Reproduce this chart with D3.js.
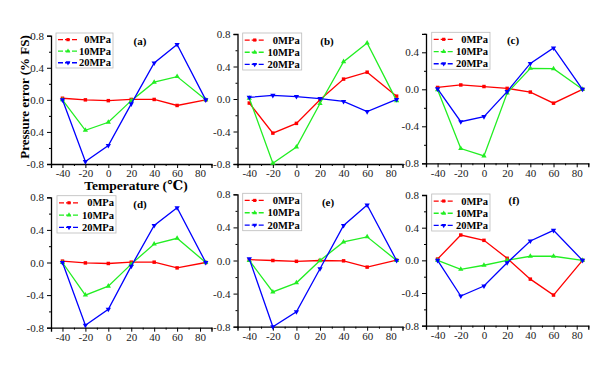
<!DOCTYPE html>
<html>
<head>
<meta charset="utf-8">
<script src="https://cdn.jsdelivr.net/npm/d3@7"></script>
<style>
  body { margin: 0; background: #fff; }
  svg text { font-family: "Liberation Serif", "DejaVu Serif", serif; }
</style>
</head>
<body>
<div id="chart"></div>
<script>
// temperatures (x) shared by every panel
var temps = [-40, -20, 0, 20, 40, 60, 85];
var seriesNames = ["0MPa", "10MPa", "20MPa"];
var seriesColors = ["#ff0000", "#22ee22", "#0000ff"];
var panelNames = ["(a)", "(b)", "(c)", "(d)", "(e)", "(f)"];
var xTicks = [-40, -20, 0, 20, 40, 60, 80];
var yTicks = [-0.8, -0.4, 0, 0.4, 0.8];
var yTicksC = [-0.8, -0.4, 0, 0.4];

// values: 0MPa, 10MPa, 20MPa
var dataA = [
    [0.02, 0.0, -0.01, 0.005, 0.005, -0.07, 0.0],
    [0.0, -0.38, -0.28, -0.01, 0.22, 0.29, 0.0],
    [0.0, -0.77, -0.57, -0.05, 0.46, 0.69, 0.0]
];
var dataB = [
    [-0.05, -0.42, -0.30, -0.01, 0.245, 0.33, 0.035],
    [0.01, -0.79, -0.59, -0.055, 0.46, 0.69, -0.02],
    [0.02, 0.045, 0.03, 0.005, -0.03, -0.155, -0.005]
];
var dataC = [
    [0.02, 0.047, 0.03, 0.01, -0.03, -0.15, 0.0],
    [-0.005, -0.64, -0.72, -0.04, 0.227, 0.223, 0.0],
    [0.005, -0.35, -0.295, -0.025, 0.28, 0.447, 0.0]
];
var dataD = [
    [0.017, -0.005, -0.012, 0.004, 0.004, -0.066, 0.0],
    [0.0, -0.40, -0.29, -0.02, 0.227, 0.297, 0.0],
    [0.0, -0.77, -0.573, -0.045, 0.454, 0.672, 0.0]
];
var dataE = [
    [0.01, 0.0, -0.01, 0.0, -0.004, -0.08, 0.004],
    [0.0, -0.38, -0.27, 0.0, 0.224, 0.286, 0.0],
    [0.02, -0.80, -0.62, -0.10, 0.424, 0.67, 0.0]
];
var dataF = [
    [0.016, 0.31, 0.245, 0.025, -0.23, -0.425, 0.0],
    [0.0, -0.11, -0.06, 0.0, 0.05, 0.05, 0.0],
    [0.0, -0.437, -0.314, -0.03, 0.237, 0.367, 0.0]
];

var panelData = [dataA, dataB, dataC, dataD, dataE, dataF];

// layout of each panel (pixel box of plot area, legend box, label spot)
var layout = [
    {x0: 51, x1: 211.5, yTop: 35.7, yBot: 164, yMax: 0.8, ticks: yTicks, lg: [56, 33, 57, 35], lab: [140, 45]},
    {x0: 237.5, x1: 402.5, yTop: 34, yBot: 164, yMax: 0.8, ticks: yTicks, lg: [242.7, 33, 59, 37], lab: [327, 45]},
    {x0: 426, x1: 588.3, yTop: 33.8, yBot: 163.3, yMax: 0.6, ticks: yTicksC, lg: [431.7, 32.3, 58.3, 37], lab: [513, 44]},
    {x0: 51, x1: 211.5, yTop: 197.3, yBot: 327.7, yMax: 0.8, ticks: yTicks, lg: [57, 195.7, 59, 37.3], lab: [140, 208]},
    {x0: 237.5, x1: 402.5, yTop: 194.3, yBot: 326.7, yMax: 0.8, ticks: yTicks, lg: [242.7, 193.3, 59, 37.4], lab: [328, 206]},
    {x0: 426, x1: 588.3, yTop: 195, yBot: 325.7, yMax: 0.8, ticks: yTicks, lg: [431.7, 194, 58.3, 37], lab: [514, 204]}
];

var width = 610, height = 366;
var serif = "'Liberation Serif', 'DejaVu Serif', serif";

var svg = d3.select("#chart").append("svg")
    .attr("width", width)
    .attr("height", height)
    .style("font-family", serif);

var fmtY = function(d) { return d3.format(".1f")(d).replace("\u2212", "-"); };
var fmtX = function(d) { return String(d); };

var symbols = [d3.symbolSquare, d3.symbolTriangle, d3.symbolTriangle];

function marker(sel, i, size) {
    sel.append("path")
        .attr("d", d3.symbol().type(symbols[i]).size(size))
        .attr("transform", i == 2 ? "rotate(180)" : null)
        .attr("fill", seriesColors[i]);
}

layout.forEach(function(p, k) {
    var x = d3.scaleLinear().domain([-50, 90]).range([p.x0, p.x1]);
    var y = d3.scaleLinear().domain([-0.8, p.yMax]).range([p.yBot, p.yTop]);

    var g = svg.append("g").attr("class", "panel");

    // minor ticks
    var xMinor = d3.range(-50, 91, 20);
    var yMinor = p.ticks.slice(0, -1).map(function(d) { return d + 0.2; });
    if (p.yMax == 0.6) yMinor.push(0.6);

    var xAxis = g.append("g")
        .attr("transform", "translate(0," + p.yBot + ")")
        .call(d3.axisBottom(x).tickValues(xTicks).tickFormat(fmtX).tickSizeOuter(0).tickSize(4));
    g.append("g")
        .attr("transform", "translate(0," + p.yBot + ")")
        .call(d3.axisBottom(x).tickValues(xMinor).tickFormat("").tickSizeOuter(0).tickSize(2))
        .select(".domain").remove();

    var yAxis = g.append("g")
        .attr("transform", "translate(" + p.x0 + ",0)")
        .call(d3.axisLeft(y).tickValues(p.ticks).tickFormat(fmtY).tickSizeOuter(0).tickSize(4));
    g.append("g")
        .attr("transform", "translate(" + p.x0 + ",0)")
        .call(d3.axisLeft(y).tickValues(yMinor).tickFormat("").tickSizeOuter(0).tickSize(2))
        .select(".domain").remove();

    g.selectAll("g").attr("font-family", serif);
    g.selectAll(".domain").attr("stroke", "#000").attr("stroke-width", 1.3);
    g.selectAll(".tick line").attr("stroke", "#000").attr("stroke-width", 1);
    xAxis.selectAll("text").attr("font-size", 11).attr("fill", "#222").attr("y", 5.5);
    yAxis.selectAll("text").attr("font-size", 11).attr("fill", "#222");

    // series lines and markers
    var line = d3.line()
        .x(function(d, i) { return x(temps[i]); })
        .y(function(d) { return y(d); });

    panelData[k].forEach(function(vals, i) {
        g.append("path")
            .datum(vals)
            .attr("d", line)
            .attr("fill", "none")
            .attr("stroke", seriesColors[i])
            .attr("stroke-width", 1.3);
        g.selectAll(".m" + i)
            .data(vals)
            .enter().append("g")
            .attr("class", "m" + i)
            .attr("transform", function(d, j) { return "translate(" + x(temps[j]) + "," + y(d) + ")"; })
            .each(function() { marker(d3.select(this), i, 12); });
    });

    // legend
    var lg = g.append("g").attr("transform", "translate(" + p.lg[0] + "," + p.lg[1] + ")");
    lg.append("rect")
        .attr("width", p.lg[2]).attr("height", p.lg[3])
        .attr("fill", "#fff").attr("stroke", "#bbb").attr("stroke-width", 0.8);
    seriesNames.forEach(function(name, i) {
        var ry = p.lg[3] * (0.19 + 0.33 * i);
        lg.append("line")
            .attr("x1", 2).attr("x2", 22).attr("y1", ry).attr("y2", ry)
            .attr("stroke", seriesColors[i]).attr("stroke-width", 1.3)
            .attr("stroke-dasharray", "5,2");
        marker(lg.append("g").attr("transform", "translate(12," + ry + ")"), i, 10);
        lg.append("text")
            .attr("x", p.lg[2] - 2).attr("y", ry + 3.5)
            .attr("text-anchor", "end")
            .attr("font-size", 10.5).attr("font-weight", "bold")
            .text(name);
    });

    g.append("text")
        .attr("x", p.lab[0]).attr("y", p.lab[1])
        .attr("text-anchor", "middle")
        .attr("font-size", 11).attr("font-weight", "bold")
        .text(panelNames[k]);
});

svg.append("text")
    .attr("transform", "translate(29,97) rotate(-90)")
    .attr("text-anchor", "middle")
    .attr("font-size", 13).attr("font-weight", "bold")
    .text("Pressure error (% FS)");

svg.append("text")
    .attr("x", 136).attr("y", 190)
    .attr("text-anchor", "middle")
    .attr("font-size", 13.5).attr("font-weight", "bold")
    .text("Temperature (\u2103)");
</script>
</body>
</html>
